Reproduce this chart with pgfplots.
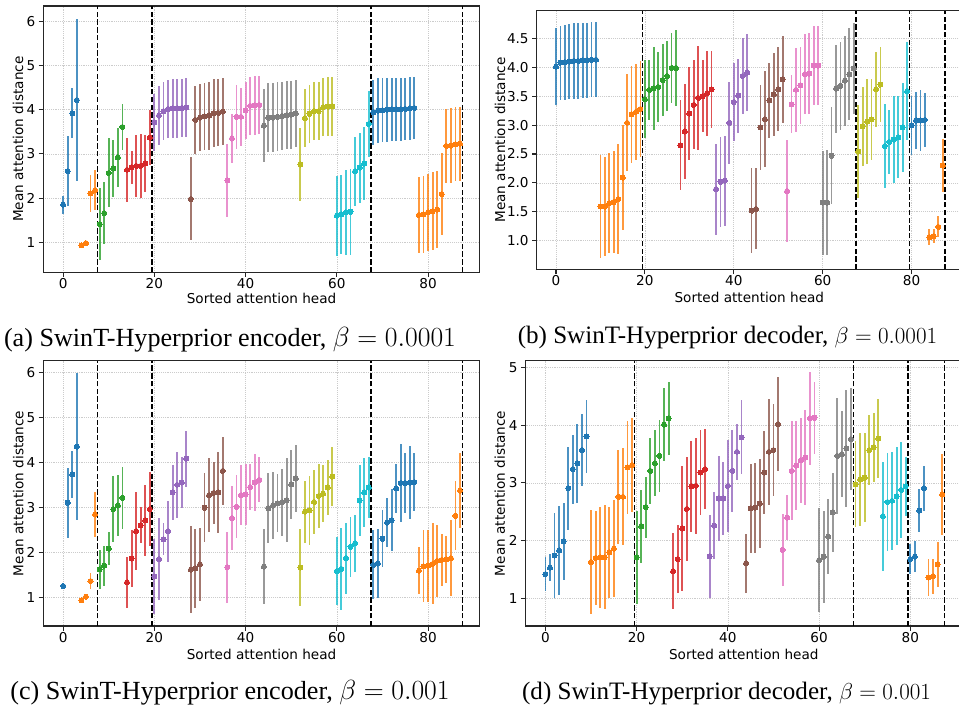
\documentclass[border=0pt]{standalone}
\usepackage[no-math]{fontspec}
\setmainfont{Liberation Serif}
\newfontfamily\dejavu{DejaVu Sans}
\usepackage{pgfplots}
\usepackage{pgfplotstable}
\pgfplotsset{compat=1.18}

\definecolor{C0}{HTML}{1F77B4}
\definecolor{C1}{HTML}{FF7F0E}
\definecolor{C2}{HTML}{2CA02C}
\definecolor{C3}{HTML}{D62728}
\definecolor{C4}{HTML}{9467BD}
\definecolor{C5}{HTML}{8C564B}
\definecolor{C6}{HTML}{E377C2}
\definecolor{C7}{HTML}{7F7F7F}
\definecolor{C8}{HTML}{BCBD22}
\definecolor{C9}{HTML}{17BECF}

% panel (a): encoder, beta = 0.0001
\pgfplotstableread{
x m e
0 1.85 0.20
1 2.61 0.79
2 3.92 0.57
3 4.22 1.83
4 0.93 0.02
5 0.98 0.03
6 2.11 0.42
7 2.18 0.46
8 1.41 0.82
9 1.66 0.71
10 2.57 0.78
11 2.67 0.65
12 2.92 0.66
13 3.61 0.53
14 2.64 0.72
15 2.70 0.37
16 2.73 0.70
17 2.73 0.73
18 2.79 0.65
19 3.37 0.62
20 3.71 0.64
21 3.87 0.67
22 3.97 0.65
23 4.02 0.65
24 4.03 0.66
25 4.03 0.66
26 4.04 0.66
27 4.05 0.66
28 1.98 0.94
29 3.77 0.77
30 3.82 0.76
31 3.85 0.76
32 3.87 0.77
33 3.92 0.77
34 3.93 0.76
35 3.96 0.76
36 2.40 0.83
37 3.35 0.55
38 3.84 0.73
39 3.84 0.66
40 3.99 0.65
41 4.09 0.66
42 4.10 0.66
43 4.11 0.66
44 3.64 0.82
45 3.82 0.78
46 3.82 0.78
47 3.84 0.78
48 3.86 0.77
49 3.88 0.77
50 3.89 0.77
51 3.92 0.76
52 2.76 0.83
53 3.81 0.65
54 3.91 0.66
55 3.97 0.66
56 3.97 0.66
57 4.06 0.66
58 4.07 0.67
59 4.08 0.67
60 1.60 0.91
61 1.63 0.90
62 1.68 0.96
63 1.69 0.97
64 2.61 0.78
65 2.69 0.79
66 2.78 0.82
67 3.68 0.74
68 3.94 0.73
69 3.98 0.74
70 3.99 0.73
71 4.00 0.72
72 4.01 0.72
73 4.01 0.72
74 4.01 0.72
75 4.02 0.71
76 4.03 0.71
77 4.04 0.70
78 1.62 0.86
79 1.63 0.87
80 1.68 0.87
81 1.70 0.88
82 1.74 0.88
83 2.09 0.92
84 3.18 0.84
85 3.19 0.84
86 3.22 0.84
87 3.23 0.84
}\tA

% panel (b): decoder, beta = 0.0001
\pgfplotstableread{
x m e
0 4.01 0.67
1 4.08 0.64
2 4.09 0.65
3 4.10 0.65
4 4.11 0.65
5 4.11 0.65
6 4.12 0.65
7 4.12 0.65
8 4.13 0.65
9 4.13 0.65
10 1.59 0.89
11 1.59 0.86
12 1.65 0.87
13 1.67 0.88
14 1.72 0.95
15 2.09 0.91
16 3.04 0.84
17 3.19 0.84
18 3.23 0.83
19 3.28 0.83
20 3.45 0.67
21 3.61 0.52
22 3.64 0.72
23 3.66 0.60
24 3.78 0.62
25 3.85 0.60
26 3.99 0.61
27 3.99 0.66
28 2.65 0.78
29 2.89 0.82
30 3.20 0.81
31 3.35 0.77
32 3.47 0.90
33 3.50 0.62
34 3.55 0.73
35 3.62 0.67
36 1.89 0.79
37 2.02 0.78
38 2.04 0.78
39 3.04 0.71
40 3.40 0.68
41 3.51 0.64
42 3.85 0.66
43 3.91 0.67
44 1.52 0.74
45 1.55 0.70
46 2.96 0.73
47 3.10 0.83
48 3.43 0.65
49 3.53 0.72
50 3.62 0.73
51 3.79 0.76
52 1.86 0.88
53 3.36 0.50
54 3.61 0.73
55 3.69 0.67
56 3.88 0.69
57 3.89 0.70
58 4.03 0.68
59 4.03 0.68
60 1.66 0.90
61 1.66 0.91
62 2.47 0.84
63 3.63 0.76
64 3.68 0.76
65 3.77 0.78
66 3.88 0.80
67 3.98 0.78
68 2.54 0.80
69 2.98 0.68
70 3.06 0.73
71 3.10 0.70
72 3.62 0.65
73 3.70 0.65
74 2.64 0.73
75 2.71 0.55
76 2.75 0.75
77 2.79 0.71
78 2.96 0.77
79 3.59 0.84
80 3.00 0.51
81 3.08 0.50
82 3.08 0.52
83 3.09 0.47
84 1.06 0.14
85 1.08 0.12
86 1.24 0.18
87 2.30 0.46
}\tB

% panel (c): encoder, beta = 0.001
\pgfplotstableread{
x m e
0 1.25 0.02
1 3.10 0.78
2 3.73 0.52
3 4.35 1.63
4 0.93 0.02
5 1.01 0.03
6 1.36 0.17
7 2.84 0.51
8 1.62 0.44
9 1.70 0.44
10 2.08 0.36
11 2.96 0.74
12 3.04 0.67
13 3.21 0.69
14 1.33 0.57
15 1.86 0.64
16 2.47 0.87
17 2.60 0.40
18 2.71 0.79
19 2.96 0.82
20 1.46 0.84
21 1.85 0.91
22 2.29 0.36
23 2.47 0.68
24 3.33 0.62
25 3.50 0.74
26 3.55 0.56
27 4.08 0.62
28 1.61 0.97
29 1.64 0.87
30 1.73 0.82
31 2.99 0.77
32 3.27 0.83
33 3.32 0.69
34 3.33 0.91
35 3.81 0.75
36 1.67 0.79
37 2.76 0.72
38 3.01 0.70
39 3.27 0.67
40 3.29 0.68
41 3.45 0.51
42 3.55 0.64
43 3.61 0.50
44 1.68 0.83
45 2.98 0.78
46 3.04 0.74
47 3.09 0.64
48 3.11 0.74
49 3.16 0.94
50 3.51 0.77
51 3.64 0.75
52 1.66 0.85
53 2.90 0.69
54 2.93 0.76
55 3.12 0.71
56 3.25 0.71
57 3.30 0.63
58 3.44 0.62
59 3.68 0.65
60 1.58 0.76
61 1.63 0.91
62 1.87 0.79
63 2.12 0.66
64 2.20 0.63
65 3.15 0.78
66 3.33 0.76
67 3.44 0.68
68 1.72 0.77
69 1.75 0.76
70 2.30 0.63
71 2.66 0.55
72 2.71 0.69
73 3.42 0.55
74 3.54 0.86
75 3.54 0.66
76 3.55 0.82
77 3.56 0.64
78 1.59 0.52
79 1.69 0.80
80 1.70 0.80
81 1.74 0.90
82 1.81 0.80
83 1.83 0.58
84 1.84 0.53
85 1.87 0.85
86 2.81 0.77
87 3.37 0.84
}\tC

% panel (d): decoder, beta = 0.001
\pgfplotstableread{
x m e
0 1.42 0.29
1 1.53 0.23
2 1.74 0.74
3 1.83 0.77
4 1.99 0.67
5 2.91 0.72
6 3.24 0.60
7 3.34 0.69
8 3.57 0.63
9 3.81 0.63
10 1.63 0.90
11 1.70 0.81
12 1.71 0.87
13 1.71 0.90
14 1.80 0.79
15 1.86 0.84
16 2.76 0.82
17 2.76 0.84
18 3.27 0.81
19 3.31 0.82
20 1.71 0.80
21 2.25 0.63
22 2.58 0.53
23 3.21 0.57
24 3.34 0.57
25 3.47 0.63
26 4.01 0.63
27 4.12 0.63
28 1.47 0.66
29 1.68 0.59
30 2.21 1.08
31 2.55 0.90
32 2.94 0.79
33 2.95 0.83
34 3.18 0.74
35 3.24 0.69
36 1.73 0.72
37 2.26 0.58
38 2.73 0.74
39 2.73 0.64
40 2.95 0.80
41 3.21 0.71
42 3.54 0.49
43 3.79 0.64
44 1.61 0.51
45 2.56 0.77
46 2.57 0.78
47 2.64 0.77
48 3.18 0.72
49 3.54 0.92
50 3.57 0.80
51 4.02 0.82
52 1.84 0.63
53 2.40 0.39
54 3.21 0.86
55 3.30 0.77
56 3.39 0.74
57 3.44 0.83
58 4.12 0.80
59 4.13 0.62
60 1.66 0.90
61 1.72 0.80
62 2.07 0.65
63 2.49 0.69
64 3.47 1.01
65 3.50 0.74
66 3.60 1.02
67 3.76 0.89
68 2.98 0.74
69 3.06 0.80
70 3.09 0.77
71 3.57 0.61
72 3.62 0.60
73 3.77 0.68
74 2.42 0.94
75 2.67 0.85
76 2.69 0.85
77 2.77 0.85
78 2.88 0.83
79 2.94 0.51
80 1.68 0.26
81 1.72 0.27
82 2.52 0.37
83 2.91 0.39
84 1.36 0.32
85 1.38 0.30
86 1.59 0.39
87 2.80 0.70
}\tD

\newcommand{\grp}[4]{%
  \addplot[#1, only marks, mark=*, mark size=1.9pt,
    mark options={fill=#1, draw=#1, line width=0pt},
    error bars/.cd, y dir=both, y explicit, error mark=none,
    error bar style={line width=1.4pt, #1, opacity=0.8}]
    table[x=x, y=m, y error=e, restrict x to domain=#2:#3] {#4};}

\newcommand{\encoder}[1]{%
  \grp{C0}{-0.5}{3.5}{#1}\grp{C1}{3.5}{7.5}{#1}%
  \grp{C2}{7.5}{13.5}{#1}\grp{C3}{13.5}{19.5}{#1}%
  \grp{C4}{19.5}{27.5}{#1}\grp{C5}{27.5}{35.5}{#1}%
  \grp{C6}{35.5}{43.5}{#1}\grp{C7}{43.5}{51.5}{#1}%
  \grp{C8}{51.5}{59.5}{#1}\grp{C9}{59.5}{67.5}{#1}%
  \grp{C0}{67.5}{77.5}{#1}\grp{C1}{77.5}{87.5}{#1}}

\newcommand{\decoder}[1]{%
  \grp{C0}{-0.5}{9.5}{#1}\grp{C1}{9.5}{19.5}{#1}%
  \grp{C2}{19.5}{27.5}{#1}\grp{C3}{27.5}{35.5}{#1}%
  \grp{C4}{35.5}{43.5}{#1}\grp{C5}{43.5}{51.5}{#1}%
  \grp{C6}{51.5}{59.5}{#1}\grp{C7}{59.5}{67.5}{#1}%
  \grp{C8}{67.5}{73.5}{#1}\grp{C9}{73.5}{79.5}{#1}%
  \grp{C0}{79.5}{83.5}{#1}\grp{C1}{83.5}{87.5}{#1}}

\newcommand{\vl}[3]{%
  \addplot[black, line width=1pt, dash pattern=on 4pt off 1.8pt, forget plot]
    coordinates {(#1,#2) (#1,#3)};}

\pgfplotsset{
  swin/.style={
    scale only axis, anchor=north west,
    xmin=-4.35, xmax=91.35,
    xtick={0,20,40,60,80},
    tick pos=left, tick align=outside, major tick length=3.5pt,
    grid=major,
    major grid style={densely dotted, black!20, line width=0.5pt},
    axis line style={black!85, line width=0.8pt},
    tick style={black!85, line width=0.8pt},
    /pgf/number format/assume math mode=true,
    tick label style={font=\dejavu\fontsize{10.2}{12}\selectfont},
    xticklabel style={yshift=2.5pt},
    yticklabel style={xshift=1pt},
    label style={font=\dejavu\fontsize{10.2}{12}\selectfont},
    xlabel={Sorted attention head},
    ylabel={Mean attention distance},
  }
}

\begin{document}
\begin{tikzpicture}
\useasboundingbox (0pt,0pt) rectangle (719.25pt,-530.25pt);

% (a)
\begin{axis}[swin, at={(32.475pt,-4.5pt)}, width=327.4pt, height=199.7pt,
  ymin=0.32, ymax=6.35, ytick={1,2,3,4,5,6},
  xlabel style={at={(axis description cs:0.5,-0.097)}, anchor=center},
  ylabel style={at={(axis description cs:-0.058,0.5)}, anchor=center}]
\encoder{\tA}
\vl{7.5}{0.32}{6.35}\vl{19.5}{0.32}{6.35}\vl{67.5}{0.32}{6.35}\vl{87.5}{0.32}{6.35}
\end{axis}

% (b)
\begin{axis}[swin, at={(402.5pt,-8pt)}, width=319pt, height=194pt,
  ymin=0.505, ymax=4.98, ytick={1,1.5,2,2.5,3,3.5,4,4.5},
  yticklabel style={/pgf/number format/.cd, fixed, fixed zerofill, precision=1},
  xlabel style={at={(axis description cs:0.5,-0.107)}, anchor=center},
  ylabel style={at={(axis description cs:-0.086,0.5)}, anchor=center}]
\decoder{\tB}
\vl{19.5}{0.505}{4.98}\vl{67.5}{0.505}{4.98}\vl{79.5}{0.505}{4.98}\vl{87.5}{0.505}{4.98}
\end{axis}

% (c)
\begin{axis}[swin, at={(32.475pt,-270.5pt)}, width=327.4pt, height=199pt,
  ymin=0.36, ymax=6.26, ytick={1,2,3,4,5,6},
  xlabel style={at={(axis description cs:0.5,-0.107)}, anchor=center},
  ylabel style={at={(axis description cs:-0.057,0.5)}, anchor=center}]
\encoder{\tC}
\vl{7.5}{0.36}{6.26}\vl{19.5}{0.36}{6.26}\vl{67.5}{0.36}{6.26}\vl{87.5}{0.36}{6.26}
\end{axis}

% (d)
\begin{axis}[swin, at={(394.2pt,-270.5pt)}, width=327.3pt, height=199pt,
  ymin=0.52, ymax=5.12, ytick={1,2,3,4,5},
  xlabel style={at={(axis description cs:0.5,-0.109)}, anchor=center},
  ylabel style={at={(axis description cs:-0.059,0.5)}, anchor=center}]
\decoder{\tD}
\vl{19.5}{0.52}{5.12}\vl{67.5}{0.52}{5.12}\vl{79.5}{0.52}{5.12}\vl{87.5}{0.52}{5.12}
\end{axis}

\node[anchor=base, font=\fontsize{19.6}{24}\selectfont] at (172.5pt,-259.9pt)
  {(a) SwinT-Hyperprior encoder, $\beta = 0.0001$};
\node[anchor=base, font=\fontsize{18.8}{22}\selectfont] at (545.6pt,-257.6pt)
  {(b) SwinT-Hyperprior decoder, $\beta = 0.0001$};
\node[anchor=base, font=\fontsize{19.6}{24}\selectfont] at (172.5pt,-524.6pt)
  {(c) SwinT-Hyperprior encoder, $\beta = 0.001$};
\node[anchor=base, font=\fontsize{18.8}{22}\selectfont] at (544.9pt,-524.6pt)
  {(d) SwinT-Hyperprior decoder, $\beta = 0.001$};
\end{tikzpicture}
\end{document}
